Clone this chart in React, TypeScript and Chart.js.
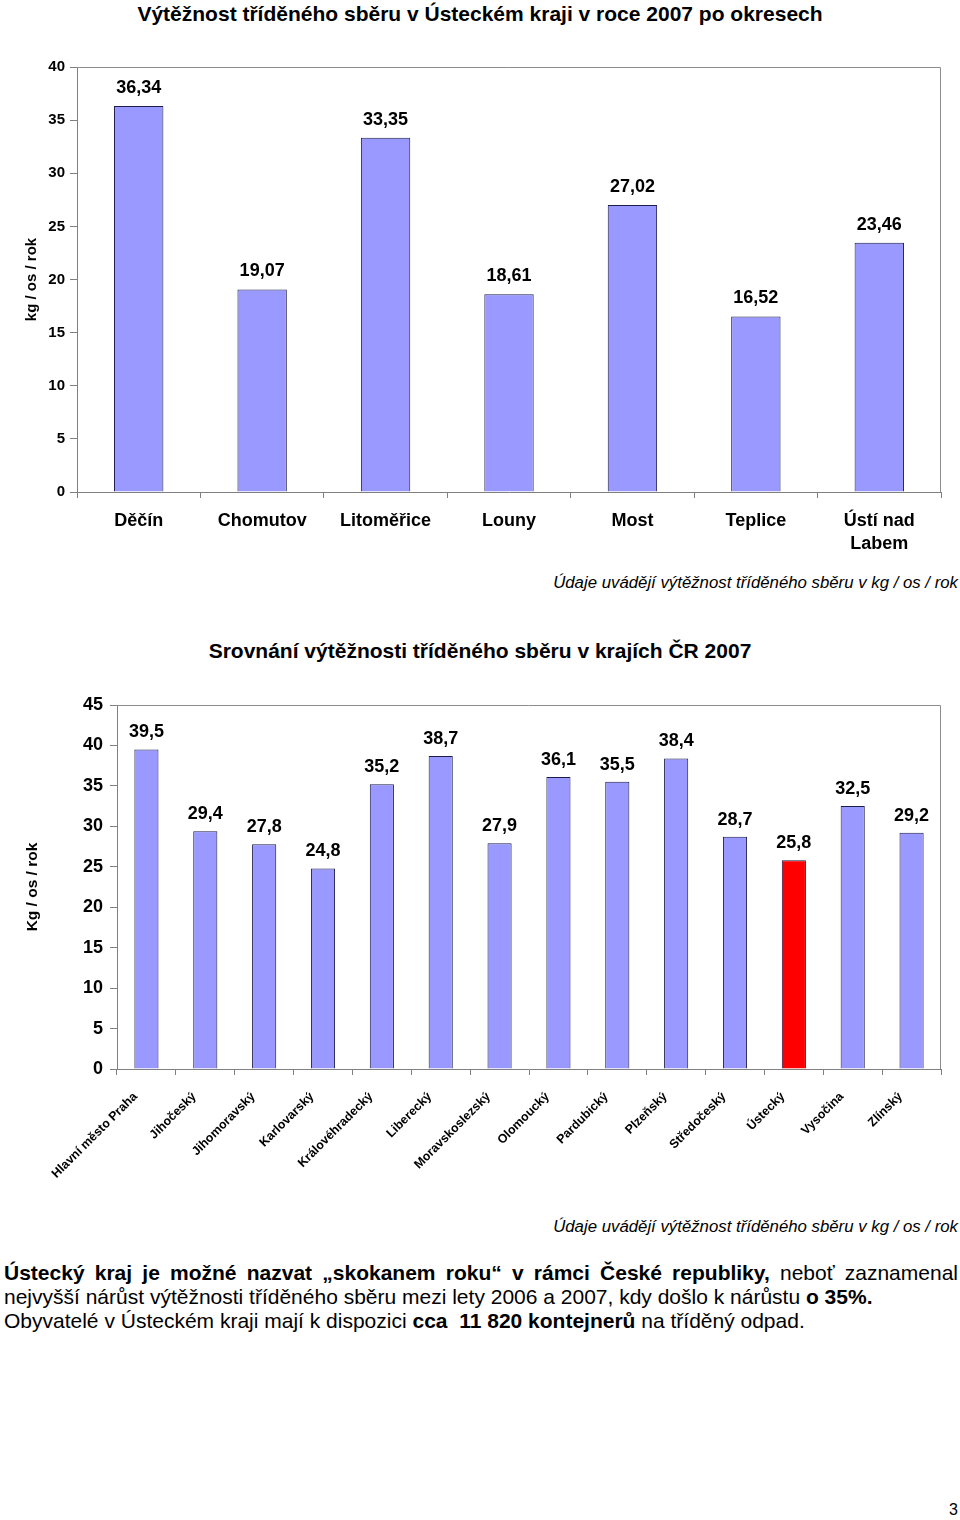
import React, { useEffect, useRef } from "react";
import { Chart, registerables } from "chart.js";

Chart.register(...registerables);

// ---------- Data ----------
const districtTitle = "Výtěžnost tříděného sběru v Ústeckém kraji v roce 2007 po okresech";
const districtLabels: (string | string[])[] = ["Děčín", "Chomutov", "Litoměřice", "Louny", "Most", "Teplice", ["Ústí nad", "Labem"]];
const districtValues = [36.34, 19.07, 33.35, 18.61, 27.02, 16.52, 23.46];
const districtAxisTitle = "kg / os / rok";

const regionTitle = "Srovnání výtěžnosti tříděného sběru v krajích ČR 2007";
const regionLabels = [
  "Hlavní město Praha", "Jihočeský", "Jihomoravský", "Karlovarský", "Královéhradecký",
  "Liberecký", "Moravskoslezský", "Olomoucký", "Pardubický", "Plzeňský",
  "Středočeský", "Ústecký", "Vysočina", "Zlínský",
];
const regionValues = [39.5, 29.4, 27.8, 24.8, 35.2, 38.7, 27.9, 36.1, 35.5, 38.4, 28.7, 25.8, 32.5, 29.2];
const regionAxisTitle = "Kg / os / rok";
const highlightRegion = "Ústecký";

const footnote = "Údaje uvádějí výtěžnost tříděného sběru v kg / os / rok";

const FONT = "Arial, 'Liberation Sans', Helvetica, sans-serif";
const BAR_FILL = "#9999FF";
const BAR_BORDER = "#1c1c4a";
const HIGHLIGHT = "#FF0000";
const FRAME = "#8c8c8c";

const fmt = (v: number) => String(v).replace(".", ",");

function makeLabelPlugin(fontSize: number, offset: number) {
  return {
    id: "valueLabels",
    afterDatasetsDraw(chart: any) {
      const ctx = chart.ctx;
      const meta = chart.getDatasetMeta(0);
      const data = chart.data.datasets[0].data as number[];
      ctx.save();
      ctx.font = `bold ${fontSize}px ${FONT}`;
      ctx.fillStyle = "#000";
      ctx.textAlign = "center";
      ctx.textBaseline = "middle";
      meta.data.forEach((el: any, i: number) => {
        ctx.fillText(fmt(data[i]), el.x, el.y - offset);
      });
      ctx.restore();
    },
  };
}

const framePlugin = {
  id: "frame",
  afterDraw(chart: any) {
    const { ctx, chartArea } = chart;
    ctx.save();
    ctx.strokeStyle = FRAME;
    ctx.lineWidth = 1;
    ctx.beginPath();
    ctx.moveTo(chartArea.left, chartArea.top + 0.5);
    ctx.lineTo(chartArea.right - 0.5, chartArea.top + 0.5);
    ctx.lineTo(chartArea.right - 0.5, chartArea.bottom);
    ctx.stroke();
    ctx.restore();
  },
};

interface BarChartProps {
  labels: (string | string[])[];
  values: number[];
  colors: string[];
  width: number;
  height: number;
  yMax: number;
  axisTitle: string;
  axisTitleSize: number;
  yTickSize: number;
  yAxisWidth: number;
  xAxisHeight: number;
  padTop: number;
  padRight: number;
  xTickSize: number;
  rotate: boolean;
  barPct: number;
  labelSize: number;
  labelOffset: number;
  xTickPadding: number;
  yTickPadding: number;
  xLabelOffset: number;
}

function BarChart(p: BarChartProps) {
  const ref = useRef<HTMLCanvasElement | null>(null);
  useEffect(() => {
    if (!ref.current) return;
    const chart = new Chart(ref.current, {
      type: "bar",
      data: {
        labels: p.labels as any,
        datasets: [
          {
            data: p.values,
            backgroundColor: p.colors,
            borderColor: BAR_BORDER,
            borderWidth: 1,
            borderSkipped: "bottom",
            barPercentage: p.barPct,
            categoryPercentage: 1,
          },
        ],
      },
      options: {
        responsive: false,
        animation: false,
        devicePixelRatio: 1,
        layout: { padding: { top: p.padTop, right: p.padRight, left: 0, bottom: 0 } },
        plugins: { legend: { display: false }, tooltip: { enabled: false } },
        scales: {
          x: {
            offset: true,
            grid: { offset: true, drawOnChartArea: false, drawTicks: true, tickLength: 6, color: "#808080" },
            border: { color: "#808080" },
            ticks: {
              color: "#000",
              font: { family: FONT, size: p.xTickSize, weight: "bold", lineHeight: 1.3 },
              autoSkip: false,
              maxRotation: p.rotate ? 45 : 0,
              minRotation: p.rotate ? 45 : 0,
              padding: p.xTickPadding,
              labelOffset: p.xLabelOffset,
            },
            afterFit(scale: any) {
              scale.height = p.xAxisHeight;
            },
          },
          y: {
            min: 0,
            max: p.yMax,
            grid: { drawOnChartArea: false, drawTicks: true, tickLength: 7, color: "#808080" },
            border: { color: "#808080" },
            ticks: {
              stepSize: 5,
              color: "#000",
              font: { family: FONT, size: p.yTickSize, weight: "bold" },
              padding: p.yTickPadding,
            },
            title: {
              display: true,
              text: p.axisTitle,
              color: "#000",
              font: { family: FONT, size: p.axisTitleSize, weight: "bold" },
              padding: { top: 23, bottom: 0 },
            },
            afterFit(scale: any) {
              scale.width = p.yAxisWidth;
            },
          },
        },
      },
      plugins: [makeLabelPlugin(p.labelSize, p.labelOffset), framePlugin],
    } as any);
    return () => chart.destroy();
  }, []);
  return <canvas ref={ref} width={p.width} height={p.height} style={{ display: "block", width: p.width, height: p.height }} />;
}

const abs = (x: number, y: number, extra: React.CSSProperties = {}): React.CSSProperties => ({
  position: "absolute",
  left: x,
  top: y,
  ...extra,
});

export default function App() {
  const regionColors = regionLabels.map((r) => (r === highlightRegion ? HIGHLIGHT : BAR_FILL));
  const districtColors = districtValues.map(() => BAR_FILL);
  return (
    <div style={{ position: "absolute", left: 0, top: 0, width: 960, height: 1520, background: "#fff", fontFamily: FONT, color: "#000", overflow: "hidden" }}>
      <div style={abs(0, 1, { width: 960, textAlign: "center", fontWeight: "bold", fontSize: 21, lineHeight: "26px" })}>{districtTitle}</div>
      <div style={abs(0, 40)}>
        <BarChart
          labels={districtLabels}
          values={districtValues}
          colors={districtColors}
          width={960}
          height={520}
          yMax={40}
          axisTitle={districtAxisTitle}
          axisTitleSize={15}
          yTickSize={15}
          yAxisWidth={77}
          xAxisHeight={68}
          padTop={27}
          padRight={19}
          xTickSize={18}
          rotate={false}
          barPct={0.4}
          labelSize={18}
          labelOffset={18}
          xTickPadding={11}
          yTickPadding={5}
          xLabelOffset={0}
        />
      </div>
      <div style={abs(0, 572, { width: 958, textAlign: "right", fontStyle: "italic", fontSize: 16.8, lineHeight: "22px" })}>{footnote}</div>

      <div style={abs(0, 638, { width: 960, textAlign: "center", fontWeight: "bold", fontSize: 21, lineHeight: "26px" })}>{regionTitle}</div>
      <div style={abs(0, 680)}>
        <BarChart
          labels={regionLabels}
          values={regionValues}
          colors={regionColors}
          width={960}
          height={520}
          yMax={45}
          axisTitle={regionAxisTitle}
          axisTitleSize={15.5}
          yTickSize={18}
          yAxisWidth={117}
          xAxisHeight={131}
          padTop={25}
          padRight={19}
          xTickSize={12.4}
          rotate={true}
          barPct={0.41}
          labelSize={18}
          labelOffset={17}
          xTickPadding={14}
          yTickPadding={7}
          xLabelOffset={-11}
        />
      </div>
      <div style={abs(0, 1216, { width: 958, textAlign: "right", fontStyle: "italic", fontSize: 16.8, lineHeight: "22px" })}>{footnote}</div>

      <div style={abs(4, 1261, { width: 954, fontSize: 21, lineHeight: "24px" })}>
        <div style={{ textAlign: "justify", textAlignLast: "justify" }}>
          <b>Ústecký kraj je možné nazvat „skokanem roku“ v rámci České republiky,</b> neboť zaznamenal
        </div>
        <div>
          nejvyšší nárůst výtěžnosti tříděného sběru mezi lety 2006 a 2007, kdy došlo k nárůstu <b>o 35%.</b>
        </div>
        <div>
          Obyvatelé v Ústeckém kraji mají k dispozici <b>cca&nbsp; 11 820 kontejnerů</b> na tříděný odpad.
        </div>
      </div>

      <div style={abs(940, 1500, { width: 18, textAlign: "right", fontSize: 16, lineHeight: "20px" })}>3</div>
    </div>
  );
}
